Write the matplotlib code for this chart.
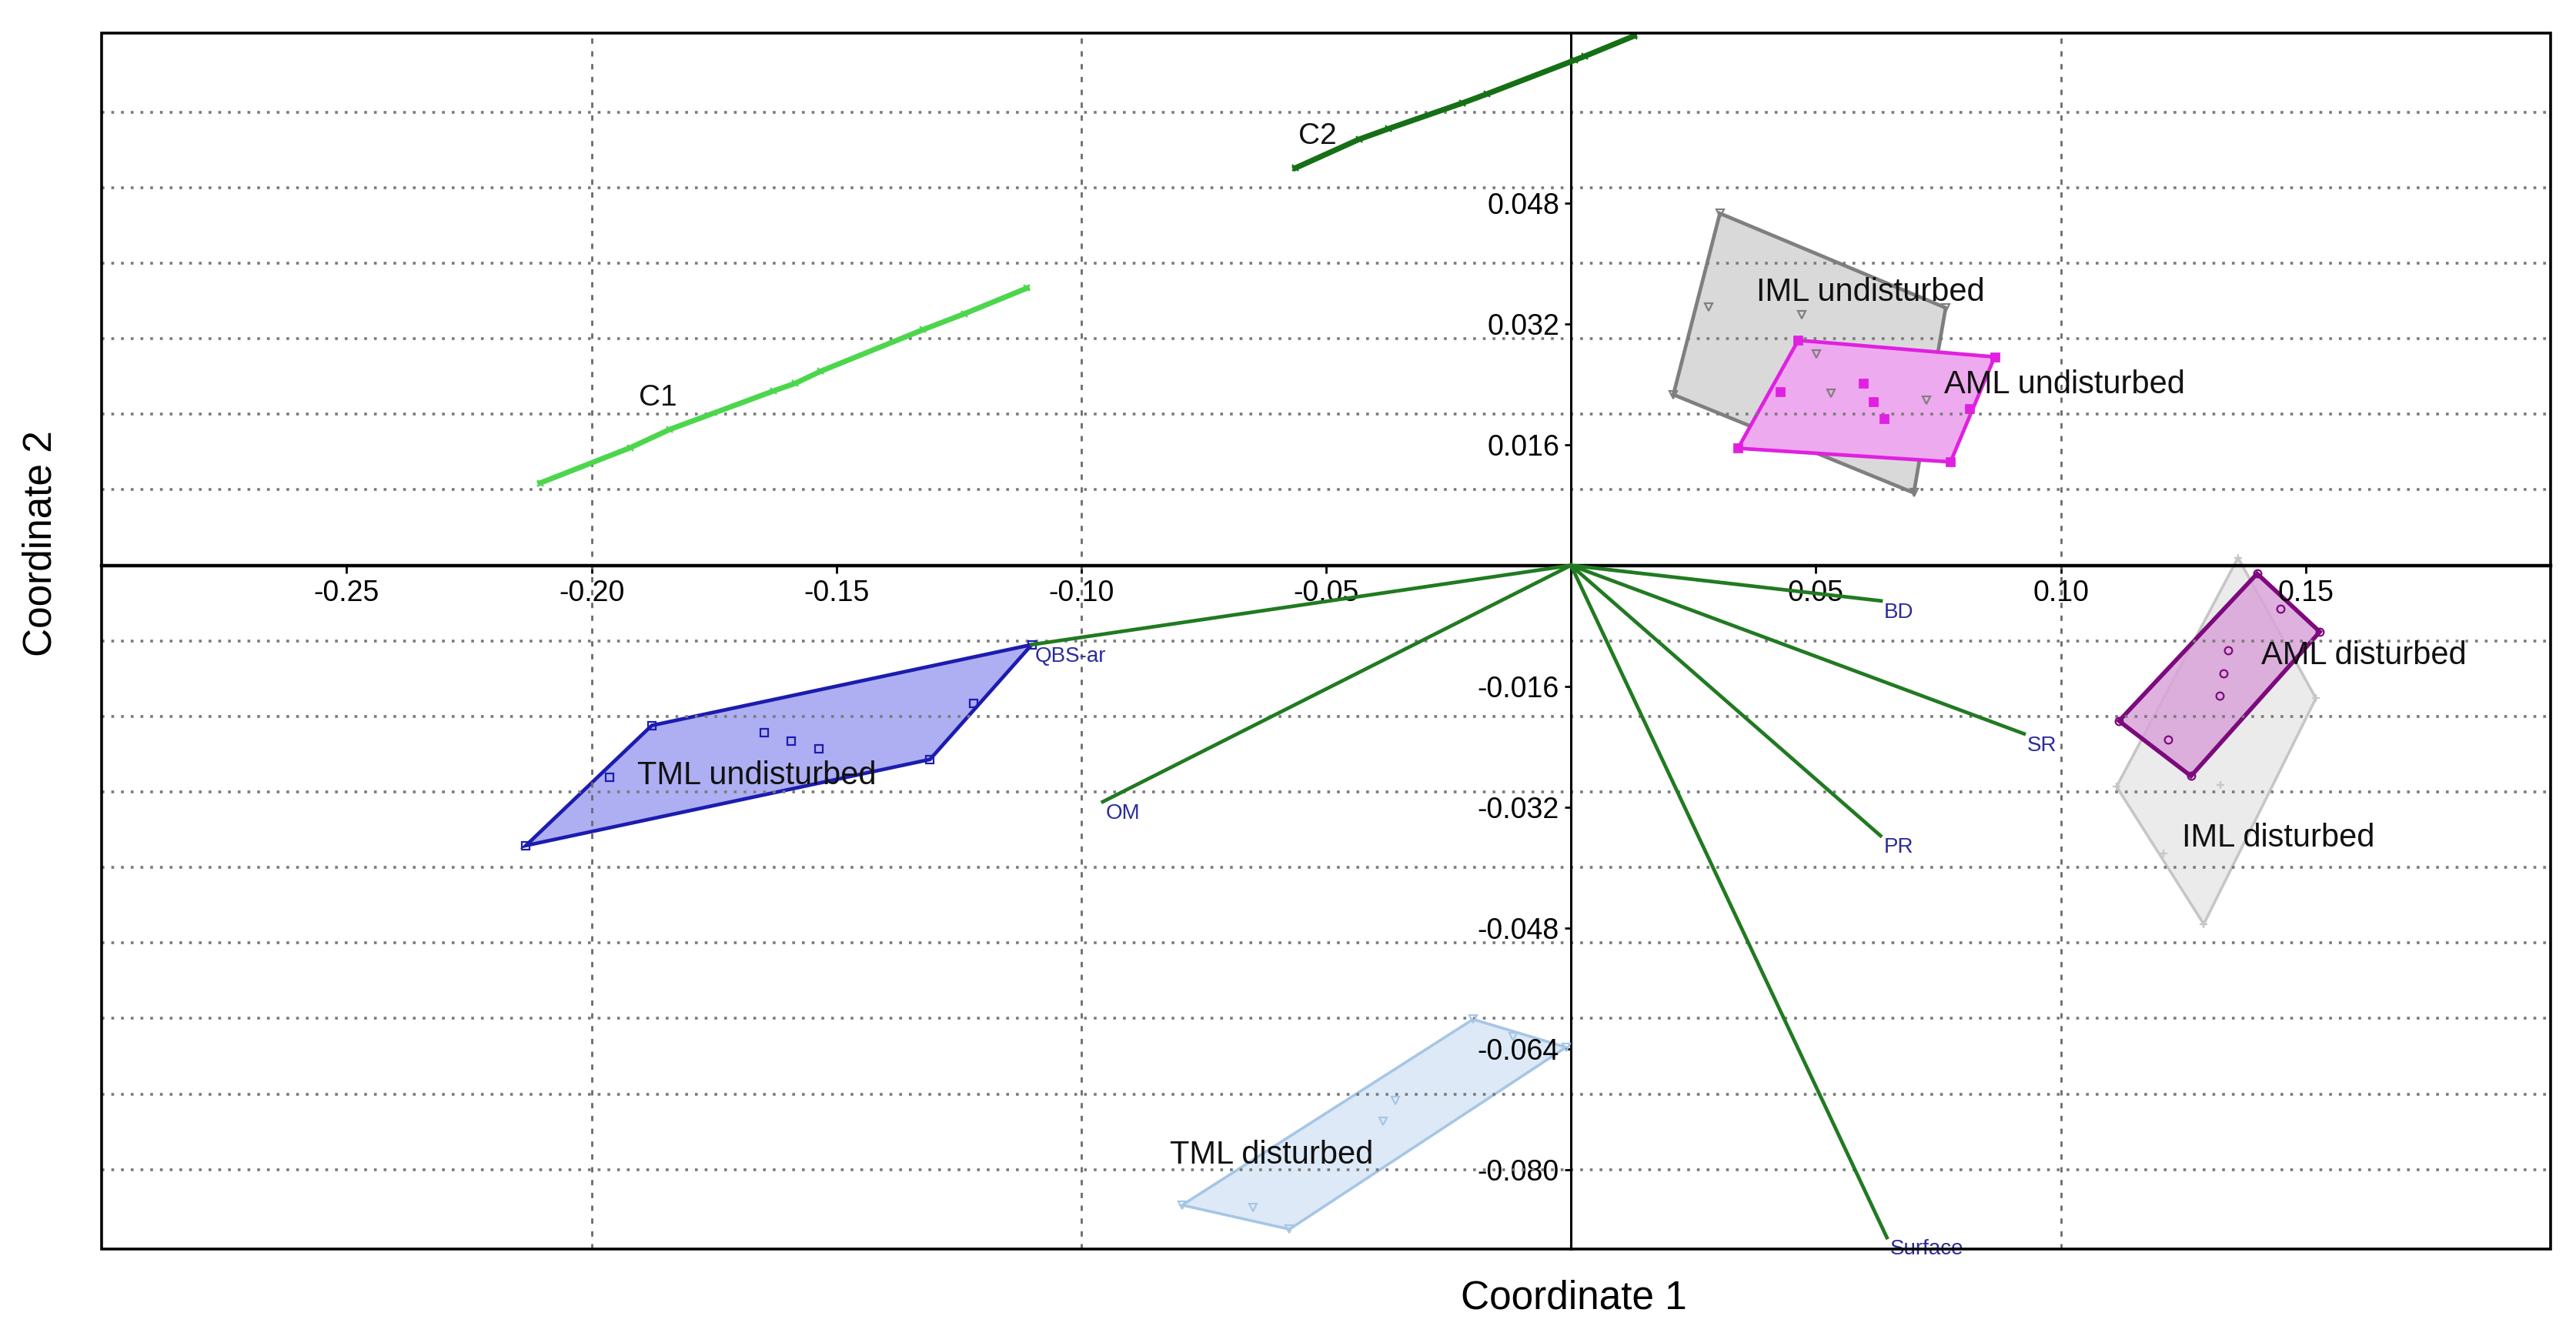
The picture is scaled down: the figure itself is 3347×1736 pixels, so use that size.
import numpy as np
import matplotlib
matplotlib.use('Agg')
import matplotlib.pyplot as plt
from matplotlib.patches import Polygon, Rectangle
from matplotlib.ticker import FixedLocator, MultipleLocator, FormatStrFormatter

plt.rcParams['font.family'] = ['Liberation Sans', 'DejaVu Sans']

# group scores (coordinate 1, coordinate 2)
tml_und_x = [-0.2134, -0.1877, -0.1101, -0.1309, -0.1963, -0.1220, -0.1647, -0.1593, -0.1536]
tml_und_y = [-0.0371, -0.0212, -0.0105, -0.0257, -0.0281, -0.0183, -0.0222, -0.0233, -0.0243]
iml_und_x = [0.0304, 0.0765, 0.0700, 0.0209, 0.0281, 0.0471, 0.0501, 0.0531, 0.0725]
iml_und_y = [0.0466, 0.0341, 0.0096, 0.0226, 0.0342, 0.0332, 0.0280, 0.0228, 0.0219]
aml_und_x = [0.0464, 0.0865, 0.0775, 0.0341, 0.0427, 0.0597, 0.0618, 0.0640, 0.0813]
aml_und_y = [0.0298, 0.0276, 0.0137, 0.0155, 0.0230, 0.0241, 0.0217, 0.0194, 0.0207]
aml_dis_x = [0.1401, 0.1529, 0.1266, 0.1119, 0.1449, 0.1342, 0.1332, 0.1324, 0.1219]
aml_dis_y = [-0.0011, -0.0088, -0.0279, -0.0206, -0.0057, -0.0112, -0.0143, -0.0173, -0.0231]
iml_dis_x = [0.1362, 0.1521, 0.1292, 0.1114, 0.1326, 0.1210]
iml_dis_y = [0.0010, -0.0176, -0.0475, -0.0293, -0.0291, -0.0381]
tml_dis_x = [-0.0200, -0.0010, -0.0575, -0.0794, -0.0118, -0.0358, -0.0383, -0.0649]
tml_dis_y = [-0.0601, -0.0638, -0.0879, -0.0847, -0.0624, -0.0709, -0.0736, -0.0850]

# C1 / C2 lines
c1_x = [-0.2105, -0.1920, -0.1840, -0.1628, -0.1584, -0.1532, -0.1323, -0.1239, -0.1111]
c1_y = [0.0109, 0.0156, 0.0180, 0.0231, 0.0241, 0.0257, 0.0312, 0.0333, 0.0367]
c2_x = [-0.0563, -0.0433, -0.0373, -0.0222, -0.0172, 0.0008, 0.0028, 0.0129]
c2_y = [0.0526, 0.0564, 0.0578, 0.0612, 0.0624, 0.0669, 0.0674, 0.0701]

# biplot vectors
vec_names = ['QBS-ar', 'OM', 'BD', 'SR', 'PR', 'Surface']
vec_x = [-0.1101, -0.0956, 0.0633, 0.0925, 0.0632, 0.0645]
vec_y = [-0.0105, -0.0313, -0.0047, -0.0223, -0.0358, -0.0890]

x_ticks = [-0.25, -0.20, -0.15, -0.10, -0.05, 0.05, 0.10, 0.15]
y_ticks = [0.048, 0.032, 0.016, -0.016, -0.032, -0.048, -0.064, -0.080]
y_grid = [0.06, 0.05, 0.04, 0.03, 0.02, 0.01, -0.01, -0.02, -0.03, -0.04, -0.05, -0.06, -0.07, -0.08]
x_grid = [-0.20, -0.10, 0.10]


def hull(xs, ys):
    pts = sorted(zip(xs, ys))

    def cross(o, a, b):
        return (a[0] - o[0]) * (b[1] - o[1]) - (a[1] - o[1]) * (b[0] - o[0])

    lower, upper = [], []
    for p in pts:
        while len(lower) >= 2 and cross(lower[-2], lower[-1], p) <= 0:
            lower.pop()
        lower.append(p)
    for p in reversed(pts):
        while len(upper) >= 2 and cross(upper[-2], upper[-1], p) <= 0:
            upper.pop()
        upper.append(p)
    return np.array(lower[:-1] + upper[:-1])


fig, ax = plt.subplots(figsize=(16.74, 8.68), dpi=200)
fig.subplots_adjust(left=0.0395, right=0.9898, bottom=0.0652, top=0.9754)

ax.set_xlim(-0.30, 0.20)
ax.set_ylim(-0.0905, 0.0705)

# groups: x, y, face, edge, marker, filled marker, edge width, label, label pos
groups = [
    (iml_und_x, iml_und_y, '#d9d9d9', '#7f7f7f', 'v', False, 1.7, 'IML undisturbed', (0.0379, 0.0361)),
    (aml_und_x, aml_und_y, '#eeaaee', '#e020e0', 's', True, 1.7, 'AML undisturbed', (0.0762, 0.0239)),
    (tml_und_x, tml_und_y, '#aeaef2', '#1c1cb0', 's', False, 1.7, 'TML undisturbed', (-0.1906, -0.0279)),
    (iml_dis_x, iml_dis_y, '#ebebeb', '#c6c6c6', '+', False, 1.3, 'IML disturbed', (0.1248, -0.0361)),
    (aml_dis_x, aml_dis_y, '#d9a3d9D8', '#7d0a7d', 'o', False, 2.0, 'AML disturbed', (0.1409, -0.0120)),
    (tml_dis_x, tml_dis_y, '#dde9f6', '#a6c6e6', 'v', False, 1.3, 'TML disturbed', (-0.0819, -0.0781)),
]

for gx, gy, fc, ec, mk, filled, lw, name, pos in groups:
    h = hull(gx, gy)
    ax.add_patch(Polygon(h, closed=True, facecolor=fc, edgecolor=ec, lw=lw, zorder=1))
    if filled:
        ax.plot(gx, gy, ls='none', marker=mk, ms=3.5, color=ec, zorder=3)
    else:
        ax.plot(gx, gy, ls='none', marker=mk, ms=3.5, mfc='none', mec=ec, mew=0.8, zorder=3)
    ax.text(pos[0], pos[1], name, fontsize=15, ha='left', va='center', color='#111111', zorder=5)

# C1 and C2
ax.plot(c1_x, c1_y, color='#4cd64c', lw=2.5, marker='x', ms=3, mew=0.8, zorder=3)
ax.plot(c2_x, c2_y, color='#157015', lw=2.6, marker='x', ms=3, mew=0.8, zorder=3)
ax.text(-0.1903, 0.0222, 'C1', fontsize=14, ha='left', va='center', color='#111111')
ax.text(-0.0557, 0.0568, 'C2', fontsize=14, ha='left', va='center', color='#111111')

# biplot vectors
for name, vx, vy in zip(vec_names, vec_x, vec_y):
    ax.plot([0, vx], [0, vy], color='#217a21', lw=1.7, zorder=4)
    ax.annotate(name, (vx, vy), xytext=(1.5, -5.5), textcoords='offset points',
                ha='left', va='center', fontsize=10, color='#2b2b9e', zorder=5)

# axes through origin
for side in ['top', 'right']:
    ax.spines[side].set_visible(False)
ax.spines['left'].set_position('zero')
ax.spines['bottom'].set_position('zero')
ax.spines['left'].set_linewidth(1.1)
ax.spines['bottom'].set_linewidth(1.6)
ax.add_patch(Rectangle((0, 0), 1, 1, transform=ax.transAxes, fill=False,
                       ec='black', lw=1.3, zorder=6, clip_on=False))

ax.xaxis.set_major_locator(FixedLocator(x_ticks))
ax.yaxis.set_major_locator(FixedLocator(y_ticks))
ax.xaxis.set_major_formatter(FormatStrFormatter('%.2f'))
ax.yaxis.set_major_formatter(FormatStrFormatter('%.3f'))
ax.xaxis.set_minor_locator(FixedLocator(x_grid))
ax.yaxis.set_minor_locator(FixedLocator(y_grid))
ax.xaxis.remove_overlapping_locs = False
ax.yaxis.remove_overlapping_locs = False
ax.tick_params(which='minor', length=0)
ax.tick_params(axis='x', which='major', direction='out', length=3.5, pad=3.2, labelsize=13.5, width=1)
ax.tick_params(axis='y', which='major', direction='out', length=3, pad=2.5, labelsize=13.5, width=1)

ax.grid(which='minor', axis='y', ls=(0, (1, 2.5)), color='#7a7a7a', lw=1.3)
ax.grid(which='minor', axis='x', ls=(0, (2.5, 3.5)), color='#6a6a6a', lw=1.0)
ax.grid(which='major', visible=False)

ax.text(0.601, -0.0405, 'Coordinate 1', transform=ax.transAxes, ha='center', va='center', fontsize=18.5)
ax.text(-0.0248, 0.58, 'Coordinate 2', transform=ax.transAxes, ha='center', va='center',
        rotation=90, fontsize=18.5)

fig.savefig('out.png', dpi=200, facecolor='white')
